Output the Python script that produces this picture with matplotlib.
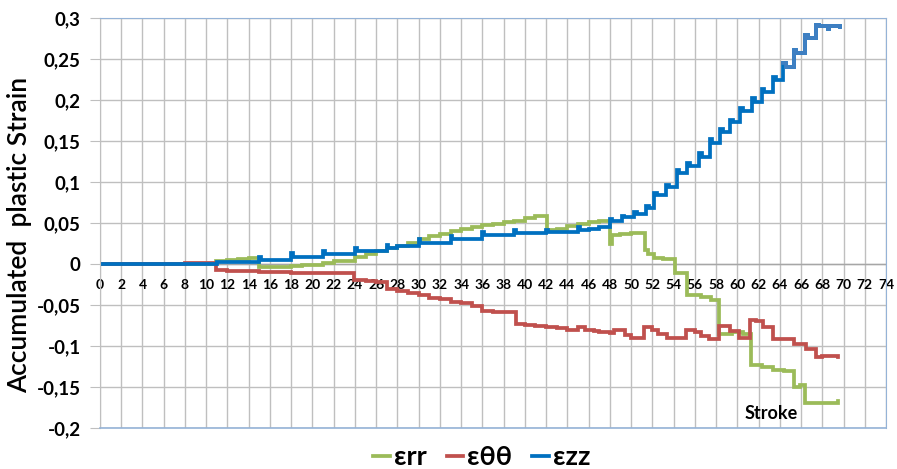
import numpy as np
import matplotlib
matplotlib.use("Agg")
import matplotlib.pyplot as plt
from matplotlib.ticker import FuncFormatter, MultipleLocator

# ---- data ----
err_x = [0, 10.9, 12, 13, 14, 15, 18, 19, 21, 22, 24, 25, 26, 27, 28, 29, 30, 31, 32, 33, 34,
         35, 36, 37, 38, 39, 40, 41, 42.1, 43, 44, 45, 46, 47, 48, 48.2, 49, 50, 51.3, 51.6,
         52.2, 53, 54.1, 55.3, 56.6, 57.5, 58.3, 59.5, 60.5, 61.3, 62.3, 63.4, 64.4, 65.3,
         65.9, 66.4, 69.5]
err_y = [0, 0.004, 0.005, 0.006, 0.007, -0.004, -0.003, -0.001, 0.001, 0.004, 0.008, 0.012,
         0.016, 0.019, 0.022, 0.026, 0.030, 0.034, 0.037, 0.040, 0.043, 0.045, 0.047, 0.049,
         0.051, 0.053, 0.056, 0.058, 0.041, 0.043, 0.046, 0.049, 0.051, 0.053, 0.025, 0.035,
         0.036, 0.038, 0.017, 0.012, 0.007, 0.006, -0.011, -0.038, -0.040, -0.044, -0.085,
         -0.083, -0.085, -0.123, -0.125, -0.129, -0.131, -0.150, -0.148, -0.169, -0.167]

ett_x = [0, 8, 10.9, 12, 15, 18, 21, 23.9, 25, 26, 27, 27.5, 28, 29, 30, 31, 32, 33, 34, 35,
         36, 37, 38, 39.2, 40, 41, 42, 43, 44, 45, 45.7, 46.5, 47, 48, 48.4, 49.4, 50, 51.2,
         52, 52.5, 53.4, 55.2, 56, 56.6, 57.3, 58.3, 59.3, 60.2, 61.2, 61.8, 62.4, 63.4, 64,
         65.3, 66.5, 67.4, 68, 69.5]
ett_y = [0, 0.001, -0.007, -0.009, -0.010, -0.011, -0.011, -0.020, -0.021, -0.022, -0.030,
         -0.031, -0.033, -0.035, -0.038, -0.041, -0.043, -0.046, -0.048, -0.051, -0.057,
         -0.058, -0.058, -0.073, -0.074, -0.075, -0.077, -0.078, -0.080, -0.077, -0.081,
         -0.082, -0.083, -0.084, -0.080, -0.086, -0.090, -0.077, -0.080, -0.085, -0.090,
         -0.080, -0.083, -0.088, -0.091, -0.076, -0.082, -0.090, -0.068, -0.070, -0.077,
         -0.091, -0.092, -0.098, -0.104, -0.113, -0.112, -0.113]

ezz_x = [0, 11, 15, 15.15, 18, 18.15, 21, 21.15, 24, 24.15, 27, 27.15, 28, 30, 30.15, 33,
         33.15, 36, 36.15, 39, 39.15, 42, 42.15, 45, 45.15, 46, 47, 48, 48.25, 49.1, 49.35,
         50.3, 50.55, 51.4, 51.65, 52.2, 52.45, 53.3, 53.55, 54.3, 54.55, 55.3, 55.55, 56.4,
         56.65, 57.4, 57.65, 58.4, 58.65, 59.3, 59.55, 60.3, 60.55, 61.4, 61.65, 62.3, 62.55,
         63.4, 63.65, 64.3, 64.55, 65.3, 65.55, 66.4, 66.65, 67.4, 67.65, 68.5, 68.6, 69.7]
ezz_y = [0, 0.002, 0.009, 0.005, 0.013, 0.009, 0.016, 0.012, 0.019, 0.016, 0.023, 0.020,
         0.022, 0.030, 0.026, 0.034, 0.030, 0.039, 0.035, 0.042, 0.038, 0.042, 0.039, 0.045,
         0.041, 0.043, 0.045, 0.055, 0.053, 0.059, 0.057, 0.063, 0.061, 0.071, 0.068, 0.087,
         0.084, 0.096, 0.094, 0.115, 0.111, 0.123, 0.120, 0.135, 0.131, 0.153, 0.148, 0.165,
         0.161, 0.176, 0.173, 0.190, 0.186, 0.202, 0.197, 0.214, 0.210, 0.228, 0.224, 0.245,
         0.240, 0.261, 0.257, 0.279, 0.275, 0.291, 0.290, 0.287, 0.290, 0.289]

series_labels = ["εrr", "εθθ", "εzz"]
series_colors = ["#9BBB59", "#C0504D", "#0070C0"]
ylabel = "Accumulated  plastic Strain"
annot = "Stroke"

FAM = ["Lato", "DejaVu Sans"]

# ---- figure ----
fig = plt.figure(figsize=(8.97, 4.69), dpi=100)
ax = fig.add_axes([100/897, 1-428/469, 786/897, 410/469])

lw = 2.7
ax.plot(err_x, err_y, drawstyle="steps-post", color=series_colors[0], lw=lw,
        label=series_labels[0], solid_joinstyle="miter")
ax.plot(ett_x, ett_y, drawstyle="steps-post", color=series_colors[1], lw=lw,
        label=series_labels[1], solid_joinstyle="miter")
ax.plot(ezz_x, ezz_y, drawstyle="steps-post", color=series_colors[2], lw=lw,
        label=series_labels[2], solid_joinstyle="miter")
# lighter tail of the εzz curve
zx = np.array(ezz_x); zy = np.array(ezz_y)
m = zx >= 64.3
ax.plot(zx[m], zy[m], drawstyle="steps-post", color="#3F7FC2", lw=lw, solid_joinstyle="miter")

ax.set_xlim(0, 74)
ax.set_ylim(-0.2, 0.3)
ax.xaxis.set_major_locator(MultipleLocator(2))
ax.yaxis.set_major_locator(MultipleLocator(0.05))
ax.yaxis.set_major_formatter(FuncFormatter(
    lambda v, p: "0" if abs(v) < 1e-9 else f"{v:.2f}".rstrip("0").replace(".", ",")))
ax.grid(True, color="#BFBFBF", lw=1)
ax.set_axisbelow(True)

# x tick labels sit on the zero line
ax.spines["bottom"].set_position(("data", 0))
ax.spines["bottom"].set_visible(False)
ax.axhline(0, color="#A6A6A6", lw=1, zorder=1)
ax.tick_params(axis="x", length=0, pad=11, labelsize=10)
ax.tick_params(axis="y", length=7, color="#BFBFBF", pad=7, labelsize=13.5)
for t in ax.get_xticklabels():
    t.set_fontfamily(FAM); t.set_fontweight("bold")
for t in ax.get_yticklabels():
    t.set_fontfamily(FAM); t.set_fontweight("bold")

ax.spines["left"].set_color("#BFBFBF")
ax.spines["top"].set_color("#95B3D7")
ax.spines["right"].set_color("#95B3D7")
ax.plot([0, 74], [-0.2, -0.2], color="#95B3D7", lw=1.2, clip_on=False, zorder=5)

ax.set_ylabel(ylabel, fontsize=19, fontfamily=FAM, fontweight="semibold")
ax.yaxis.set_label_coords(-0.0865, 0.47)

ax.text(63.2, -0.182, annot, fontsize=13, fontweight="bold",
        fontfamily=FAM, ha="center", va="center")

handles, labels = ax.get_legend_handles_labels()
leg = fig.legend(handles[:3], labels[:3], loc="center", bbox_to_anchor=(0.537, 1-457/469),
                 ncol=3, frameon=False, handlelength=0.6, handletextpad=0.15,
                 columnspacing=0.75, prop={"family": FAM, "size": 19.5, "weight": "bold"})

fig.savefig("out.png", dpi=100)
